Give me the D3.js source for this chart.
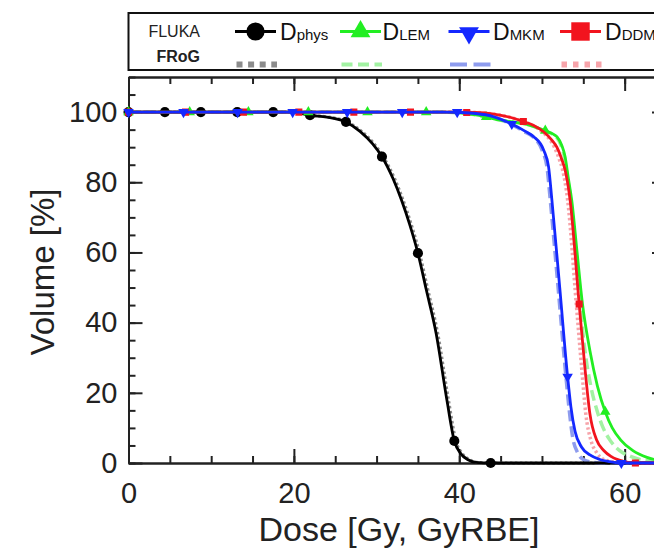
<!DOCTYPE html>
<html>
<head>
<meta charset="utf-8">
<script src="https://cdn.jsdelivr.net/npm/d3@7"></script>
<style>
  body { margin: 0; background: #fff; overflow: hidden; }
  svg { display: block; font-family: "Liberation Sans", Arial, Helvetica, sans-serif; }
  .axis .domain { stroke: #222; stroke-width: 2; }
  .axis .tick line { stroke: #222; stroke-width: 2; }
  .axis .tick text { font-size: 29px; fill: #222; }
</style>
</head>
<body>
<div id="plot"></div>
<script>
// ---- data (dose in Gy / GyRBE, volume in %) ----
const physDose = [0, 20, 21.95, 24, 26.3, 28, 29.5, 30.65, 32, 33, 34, 35, 36, 37.2, 38.5, 39.4, 40.2, 41, 42, 43.8, 65];
const physVol  = [100, 100, 99.1, 98.6, 97.2, 94.5, 91, 87.3, 81, 75, 68, 59.8, 49.5, 37, 18, 6.3, 2.6, 1, 0.2, 0, 0];
const physMarkDose = [0, 4.4, 8.75, 13.15, 17.5, 21.95, 26.3, 30.65, 35, 39.4, 43.8];
const physMarkVol  = [100, 100, 100, 100, 100, 99.1, 97.2, 87.3, 59.8, 6.3, 0];
const physFrogDose = [0, 20, 22.1, 24.2, 26.5, 28.2, 29.7, 30.8, 32.2, 33.2, 34.2, 35.2, 36.2, 37.4, 38.7, 39.6, 40.4, 41.2, 42.2, 44, 65];
const physFrogVol  = [100, 100, 99.1, 98.6, 97.2, 94.5, 91, 87.3, 81, 75, 68, 59.8, 49.5, 37, 18, 6.3, 2.6, 1, 0.2, 0, 0];

const lemDose = [0, 38, 40, 42, 43.25, 45, 46.5, 48.5, 50.4, 51.3, 51.8, 52.4, 52.8, 53.2, 53.6, 54.25, 54.9, 55.8, 56.7, 57.65, 58.5, 59.5, 61, 62.7, 64, 65];
const lemVol  = [100, 100, 99.8, 99.2, 98.6, 97.7, 97.2, 96.3, 94.7, 93.8, 93, 90.5, 87.3, 81, 74.9, 60, 45.3, 32, 22, 14.6, 10, 6.6, 3.5, 1.6, 0.8, 0.5];
const lemMarkDose = [0, 7.4, 14.5, 21.75, 28.9, 36, 43.25, 50.4, 57.65, 64.8];
const lemMarkVol  = [100, 100, 100, 100, 100, 100, 98.6, 94.7, 14.6, 0.5];
const lemFrogDose = [0, 38, 40, 42, 43.25, 45, 46.5, 48.5, 50.3, 51.2, 51.7, 52.3, 52.7, 53.1, 53.5, 54.05, 54.6, 55.2, 55.9, 56.7, 57.4, 58.2, 59.4, 60.8, 62.5, 65];
const lemFrogVol  = [100, 100, 99.8, 99.2, 98.6, 97.7, 97.2, 96.3, 94.7, 93.8, 93, 90.5, 87.3, 81, 74.9, 60, 45.3, 32, 22, 14.6, 10, 6.6, 3.5, 1.8, 0.7, 0.2];

const mkmDose = [0, 38, 40, 42, 44, 46.35, 48, 49, 50.2, 50.8, 51.2, 52.15, 53.1, 53.5, 54, 54.8, 55.8, 57, 58.2, 59.6, 65];
const mkmVol  = [100, 100, 99.9, 99.6, 98.8, 96.6, 94.5, 93, 89.2, 84.4, 75, 50, 24.6, 16, 9, 4.5, 2.3, 1, 0.4, 0, 0];
const mkmMarkDose = [0, 6.65, 13.2, 19.85, 26.45, 33.1, 39.75, 46.35, 53.1, 59.6];
const mkmMarkVol  = [100, 100, 100, 100, 100, 100, 100, 96.6, 24.6, 0];
const mkmFrogDose = [0, 38, 40, 42, 44, 46.2, 47.8, 48.9, 50, 50.6, 51, 51.95, 52.9, 53.3, 53.7, 54.3, 55, 56.2, 57.5, 65];
const mkmFrogVol  = [100, 100, 99.9, 99.6, 98.8, 96.6, 94.5, 93, 89.2, 84.4, 75, 50, 24.6, 15, 7.5, 3, 1, 0.2, 0, 0];

const ddmDose = [0, 40, 42, 44, 46, 47.75, 49, 50.2, 51.2, 51.8, 52.4, 52.8, 53.4, 54.5, 55.2, 55.8, 56.6, 57.5, 58.4, 59.8, 61.3, 65];
const ddmVol  = [100, 100, 99.9, 99.5, 98.6, 97.3, 96.2, 94.4, 92, 90, 86.5, 83.5, 75, 45.3, 27, 14, 6.6, 3.5, 1.8, 0.5, 0, 0];
const ddmMarkDose = [0, 6.9, 13.9, 20.6, 27.25, 34.1, 40.9, 47.75, 54.5, 61.3];
const ddmMarkVol  = [100, 100, 100, 100, 100, 100, 99.9, 97.3, 45.3, 0];
const ddmFrogDose = [0, 40, 42, 44, 46, 47.7, 48.9, 50, 51, 51.5, 52.1, 52.5, 53.1, 54.15, 54.8, 55.3, 55.9, 56.6, 57.5, 59, 60, 65];
const ddmFrogVol  = [100, 100, 99.9, 99.5, 98.6, 97.3, 96.2, 94.4, 92, 90, 86.5, 83.5, 75, 45.3, 27, 14, 6.6, 3, 1, 0.2, 0, 0];

const xMajorTicks = [0, 20, 40, 60];
const xMinorTicks = [0, 5, 10, 15, 20, 25, 30, 35, 40, 45, 50, 55, 60, 65];
const yMajorTicks = [0, 20, 40, 60, 80, 100];
const yMinorTicks = [0, 5, 10, 15, 20, 25, 30, 35, 40, 45, 50, 55, 60, 65, 70, 75, 80, 85, 90, 95, 100, 105, 110];
const xDomain = [0, 65];
const yDomain = [0, 110];

const seriesSubs = ["phys", "LEM", "MKM", "DDM"];
const rowLabels = ["FLUKA", "FRoG"];

// ---- drawing ----
const w = 654, h = 552;
const padL = 128.5, padR = 666, padT = 77, padB = 463;

const svg = d3.select("#plot").append("svg")
  .attr("width", w)
  .attr("height", h);

const xScale = d3.scaleLinear().domain(xDomain).range([padL, padR]);
const yScale = d3.scaleLinear().domain(yDomain).range([padB, padT]);

// axes, ticks pointing inward, mirrored on top/right
function axis(gen, ticks, size, tx, ty, labels) {
  const a = gen.tickValues(ticks).tickSize(size).tickSizeOuter(0);
  if (!labels) a.tickFormat("");
  svg.append("g").attr("class", "axis")
     .attr("transform", "translate(" + tx + "," + ty + ")")
     .call(a);
}
axis(d3.axisBottom(xScale).tickPadding(19.5), xMajorTicks, -14, 0, padB, true);
axis(d3.axisBottom(xScale), xMinorTicks, -7, 0, padB, false);
axis(d3.axisTop(xScale), xMajorTicks, -14, 0, padT, false);
axis(d3.axisTop(xScale), xMinorTicks, -7, 0, padT, false);
axis(d3.axisLeft(yScale).tickPadding(11), yMajorTicks, -14, padL, 0, true);
axis(d3.axisLeft(yScale), yMinorTicks, -7, padL, 0, false);
axis(d3.axisRight(yScale), yMajorTicks, -14, padR, 0, false);
axis(d3.axisRight(yScale), yMinorTicks, -7, padR, 0, false);

svg.append("text")
  .attr("x", 399).attr("y", 541)
  .attr("text-anchor", "middle")
  .attr("font-size", 34).attr("fill", "#222")
  .text("Dose [Gy, GyRBE]");

svg.append("text")
  .attr("transform", "rotate(-90)")
  .attr("x", -272).attr("y", 54)
  .attr("text-anchor", "middle")
  .attr("font-size", 33).attr("fill", "#222")
  .text("Volume [%]");

//-----------------plot data-----------------------
svg.append("clipPath").attr("id", "clip")
  .append("rect")
  .attr("x", padL - 8).attr("y", padT)
  .attr("width", padR - padL + 8).attr("height", padB - padT + 8);

const plot = svg.append("g").attr("clip-path", "url(#clip)");

const line = d3.line()
  .x(d => xScale(d[0]))
  .y(d => yScale(d[1]))
  .curve(d3.curveMonotoneX);

const zip = (a, b) => a.map((v, i) => [v, b[i]]);

const frog = [
  { dose: physFrogDose, vol: physFrogVol, color: "#8c8c8c", width: 3, dash: "2.5,2.5" },
  { dose: lemFrogDose, vol: lemFrogVol, color: "#a2f2a2", width: 3.5, dash: "11,5" },
  { dose: mkmFrogDose, vol: mkmFrogVol, color: "#8e9cee", width: 3.5, dash: "11,5" },
  { dose: ddmFrogDose, vol: ddmFrogVol, color: "#f7a4aa", width: 3.5, dash: "2.5,2.5" }
];
const fluka = [
  { dose: physDose, vol: physVol, mDose: physMarkDose, mVol: physMarkVol, color: "#000000",
    sym: d3.symbolCircle, size: 80, legSize: 260, rot: 0 },
  { dose: lemDose, vol: lemVol, mDose: lemMarkDose, mVol: lemMarkVol, color: "#22ee22",
    sym: d3.symbolTriangle, size: 48, legSize: 170, rot: 0 },
  { dose: mkmDose, vol: mkmVol, mDose: mkmMarkDose, mVol: mkmMarkVol, color: "#1428ff",
    sym: d3.symbolTriangle, size: 48, legSize: 170, rot: 180 },
  { dose: ddmDose, vol: ddmVol, mDose: ddmMarkDose, mVol: ddmMarkVol, color: "#f2141e",
    sym: d3.symbolSquare, size: 50, legSize: 340, rot: 0 }
];

frog.forEach(s => {
  plot.append("path")
    .datum(zip(s.dose, s.vol))
    .attr("d", line)
    .attr("fill", "none")
    .attr("stroke", s.color)
    .attr("stroke-width", s.width)
    .attr("stroke-dasharray", s.dash);
});

// draw order as in the figure: phys, LEM, DDM, MKM on top
[0, 1, 3, 2].forEach(k => {
  const s = fluka[k];
  plot.append("path")
    .datum(zip(s.dose, s.vol))
    .attr("d", line)
    .attr("fill", "none")
    .attr("stroke", s.color)
    .attr("stroke-width", 2.8);
  plot.selectAll(null)
    .data(zip(s.mDose, s.mVol))
    .enter()
    .append("path")
      .attr("d", d3.symbol().type(s.sym).size(s.size))
      .attr("transform", d => "translate(" + xScale(d[0]) + "," + yScale(d[1]) + ") rotate(" + s.rot + ")")
      .attr("fill", s.color);
});

//-----------------legend-----------------------
svg.append("rect")
  .attr("x", 128.5).attr("y", 13)
  .attr("width", 560).attr("height", 57)
  .attr("fill", "#fff")
  .attr("stroke", "#111")
  .attr("stroke-width", 2);

svg.append("text")
  .attr("x", 200).attr("y", 37)
  .attr("text-anchor", "end")
  .attr("font-size", 16).attr("fill", "#222")
  .text(rowLabels[0]);
svg.append("text")
  .attr("x", 200).attr("y", 62)
  .attr("text-anchor", "end")
  .attr("font-size", 16).attr("font-weight", "bold").attr("fill", "#222")
  .text(rowLabels[1]);

const legX = [235, 340, 448.5, 560];
const legText = [280, 382.5, 493, 605];
const frogLegDash = ["6,5.6", "11,5.5", "17,6.5", "5.5,6"];
const frogLegWidth = [6, 4, 4, 6];

fluka.forEach((s, i) => {
  const x0 = legX[i], x1 = legX[i] + 41;
  svg.append("line")
    .attr("x1", x0).attr("x2", x1).attr("y1", 31.5).attr("y2", 31.5)
    .attr("stroke", s.color).attr("stroke-width", 3.2);
  svg.append("path")
    .attr("d", d3.symbol().type(s.sym).size(s.legSize))
    .attr("transform", "translate(" + (x0 + 20.5) + "," + (s.rot ? 33 : 31.5) + ") rotate(" + s.rot + ")")
    .attr("fill", s.color);
  const t = svg.append("text")
    .attr("x", legText[i]).attr("y", 40)
    .attr("fill", "#111");
  t.append("tspan").attr("font-size", 23).text("D");
  t.append("tspan").attr("font-size", 15).text(seriesSubs[i]);

  svg.append("line")
    .attr("x1", x0 + 1.5).attr("x2", x1 + 1).attr("y1", 64.5).attr("y2", 64.5)
    .attr("stroke", frog[i].color)
    .attr("stroke-width", frogLegWidth[i])
    .attr("stroke-dasharray", frogLegDash[i]);
});
</script>
</body>
</html>
